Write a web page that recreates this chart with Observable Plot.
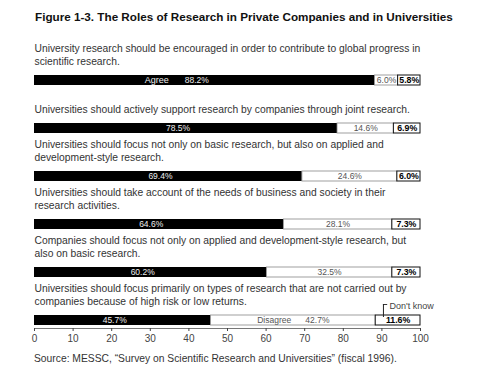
<!DOCTYPE html>
<html>
<head>
<meta charset="utf-8">
<script src="https://cdn.jsdelivr.net/npm/d3@7"></script>
<script src="https://cdn.jsdelivr.net/npm/@observablehq/plot@0.6"></script>
<style>
  html, body { margin: 0; padding: 0; background: #fff; }
  #wrap { position: relative; width: 489px; height: 383px; overflow: hidden; font-family: "Liberation Sans", Arial, sans-serif; }
  #title { position: absolute; left: 35px; top: 10px; font-size: 11.7px; font-weight: bold; color: #111; white-space: nowrap; }
  #chart { position: absolute; left: 0; top: 30px; }
  #source { position: absolute; left: 34px; top: 353px; font-size: 10.3px; color: #333; white-space: nowrap; }
</style>
</head>
<body>
<div id="wrap">
  <div id="title">Figure 1-3. The Roles of Research in Private Companies and in Universities</div>
  <div id="chart"></div>
  <div id="source">Source: MESSC, “Survey on Scientific Research and Universities” (fiscal 1996).</div>
</div>
<script>
const questions = [
  "University research should be encouraged in order to contribute to global progress in\nscientific research.",
  "Universities should actively support research by companies through joint research.",
  "Universities should focus not only on basic research, but also on applied and\ndevelopment-style research.",
  "Universities should take account of the needs of business and society in their\nresearch activities.",
  "Companies should focus not only on applied and development-style research, but\nalso on basic research.",
  "Universities should focus primarily on types of research that are not carried out by\ncompanies because of high risk or low returns."
];
const agree = [88.2, 78.5, 69.4, 64.6, 60.2, 45.7];
const disagree = [6.0, 14.6, 24.6, 28.1, 32.5, 42.7];
const dontKnow = [5.8, 6.9, 6.0, 7.3, 7.3, 11.6];
const agreeKey = ["Agree", "", "", "", "", ""];
const disagreeKey = ["", "", "", "", "", "Disagree"];
const dkNote = ["", "", "", "", "", "Don't know"];
const xTicks = [0, 10, 20, 30, 40, 50, 60, 70, 80, 90, 100];

const fmt = v => v.toFixed(1) + "%";
const rows = questions.map((q, i) => ({
  q,
  a0: 0, a1: agree[i],
  d0: agree[i], d1: agree[i] + disagree[i],
  k0: agree[i] + disagree[i], k1: agree[i] + disagree[i] + dontKnow[i],
  aMid: agree[i] / 2,
  dMid: agree[i] + disagree[i] / 2,
  kMid: agree[i] + disagree[i] + dontKnow[i] / 2,
  aLabel: fmt(agree[i]),
  dLabel: disagreeKey[i] ? disagreeKey[i] + "      " + fmt(disagree[i]) : fmt(disagree[i]),
  kLabel: fmt(dontKnow[i]),
  aKey: agreeKey[i],
  note: dkNote[i]
}));
const noteRows = rows.filter(r => r.note);

const chart = Plot.plot({
  width: 489,
  height: 320,
  marginLeft: 34,
  marginRight: 69,
  marginTop: 0,
  marginBottom: 22,
  style: { fontFamily: "Liberation Sans, Arial, sans-serif", background: "transparent" },
  x: { domain: [0, 100], ticks: xTicks },
  y: { type: "band", domain: questions, range: [43.5, 297], paddingInner: 0.79, paddingOuter: 0, axis: null },
  marks: [
    Plot.frame({ anchor: "bottom", stroke: "#777" }),
    Plot.axisX({ ticks: xTicks, tickSize: 3, tickPadding: 3, fontSize: 10, color: "#444", label: null, tickFormat: d => d }),
    Plot.text(rows, { y: "q", text: "q", frameAnchor: "left", textAnchor: "start", lineAnchor: "bottom", dy: -16, fontSize: 10.3, lineHeight: 1.17, fill: "#333" }),
    Plot.barX(rows, { x1: "a0", x2: "a1", y: "q", fill: "#000" }),
    Plot.barX(rows, { x1: "d0", x2: "d1", y: "q", fill: "#fff", stroke: "#888", strokeWidth: 0.8 }),
    Plot.barX(rows, { x1: "k0", x2: "k1", y: "q", fill: "#fff", stroke: "#111", strokeWidth: 1 }),
    Plot.text(rows, { x: "aMid", y: "q", text: "aLabel", dx: -8, fill: "#eee", fontSize: 8.5 }),
    Plot.text(rows, { x: "aMid", y: "q", text: "aKey", dx: -36, textAnchor: "end", fill: "#eee", fontSize: 9 }),
    Plot.text(rows, { x: "dMid", y: "q", text: "dLabel", fill: "#555", fontSize: 8.5 }),
    Plot.text(rows, { x: "kMid", y: "q", text: "kLabel", fill: "#000", fontSize: 8.8, fontWeight: "bold" }),
    Plot.tickX(noteRows, { x: d => d.k0 + 2, y: "q", dy: -11, insetBottom: -3, stroke: "#222", strokeWidth: 1 }),
    Plot.ruleY(noteRows, { x1: d => d.k0 + 2, x2: d => d.k0 + 3.1, y: "q", dy: -16, stroke: "#222", strokeWidth: 0.9 }),
    Plot.text(noteRows, { x: d => d.k0 + 2, y: "q", text: "note", dx: 6, dy: -14, textAnchor: "start", fill: "#444", fontSize: 9 })
  ]
});
document.getElementById("chart").appendChild(chart);
</script>
</body>
</html>
